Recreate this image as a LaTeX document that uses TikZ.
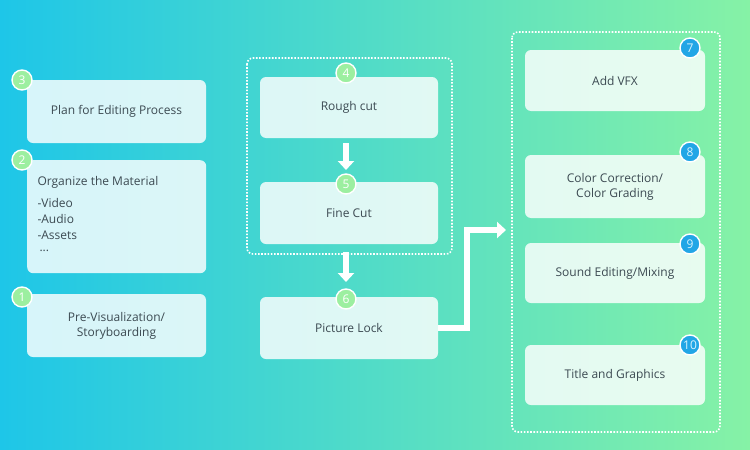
\documentclass[tikz,border=0pt]{standalone}
\usepackage{fontspec}
\setmainfont{Open Sans}
\usetikzlibrary{arrows.meta,shadings}
\definecolor{bgl}{HTML}{1EC6E8}
\definecolor{bgr}{HTML}{86F2A6}
\definecolor{txt}{HTML}{3C4A52}
\definecolor{gbad}{HTML}{9CEFA0}
\definecolor{bbad}{HTML}{22A6E6}
\begin{document}
\begin{tikzpicture}[x=1pt,y=-1pt,
  box/.style={draw=none,fill=white,fill opacity=0.82,text opacity=1,rounded corners=6pt,text=txt,font=\fontsize{12}{15}\selectfont,align=center},
  gb/.style={circle,draw=white,line width=1.4pt,fill=gbad,text=white,inner sep=0pt,minimum size=20pt,font=\fontsize{12}{12}\selectfont},
  bb/.style={circle,draw=white,line width=1.4pt,fill=bbad,text=white!85!cyan,inner sep=0pt,minimum size=20pt,font=\fontsize{12}{12}\selectfont},
  grp/.style={draw=white,line width=1.6pt,dash pattern=on 1.6pt off 1.6pt,rounded corners=6pt},
  arr/.style={draw=white,line width=6pt,-{Triangle[length=9pt,width=16pt]}}]
\shade[left color=bgl,right color=bgr] (0,0) rectangle (750,450);
\useasboundingbox (0,0) rectangle (750,450);
% left column
\node[box,minimum width=179pt,minimum height=63pt] (plan) at (116.5,111.5) {Plan for Editing Process};
\node[box,minimum width=179pt,minimum height=113pt,anchor=north west] (org) at (27,160) {};
\node[anchor=north west,text=txt,font=\fontsize{12}{16}\selectfont,align=left] (orgt) at (34,173) {Organize the Material\\[6pt]-Video\\-Audio\\-Assets\\[-4pt]\,...};
\node[box,minimum width=179pt,minimum height=63pt] (pre) at (116.5,325.5) {Pre-Visualization/\\Storyboarding};
\node[gb] (b3) at (22,80) {3};
\node[gb] (b2) at (22,160) {2};
\node[gb] (b1) at (22,297) {1};
% middle
\draw[grp] (247,58) rectangle (452,254);
\node[box,minimum width=178pt,minimum height=61pt] (rough) at (349,107.5) {Rough cut};
\node[box,minimum width=178pt,minimum height=62pt] (fine) at (349,213) {Fine Cut};
\node[box,minimum width=178pt,minimum height=62pt] (lock) at (349,328) {Picture Lock};
\coordinate (a1) at (346,143);
\coordinate (a2) at (346,170);
\coordinate (a3) at (346,252);
\coordinate (a4) at (346,282);
\draw[arr] (a1) -- (a2);
\draw[arr] (a3) -- (a4);
\node[gb] (b4) at (346,73) {4};
\node[gb] (b5) at (346,184) {5};
\node[gb] (b6) at (346,299) {6};
% right
\draw[grp] (512,32) rectangle (720,432);
\node[box,minimum width=180pt,minimum height=61pt] (vfx) at (615,80.5) {Add VFX};
\node[box,minimum width=180pt,minimum height=63pt] (cc) at (615,186.5) {Color Correction/\\Color Grading};
\node[box,minimum width=180pt,minimum height=60pt] (snd) at (615,273) {Sound Editing/Mixing};
\node[box,minimum width=180pt,minimum height=60pt] (ttl) at (615,375) {Title and Graphics};
\node[bb] (b7) at (690,48) {7};
\node[bb] (b8) at (690,152) {8};
\node[bb] (b9) at (690,244) {9};
\node[bb] (b10) at (690,345) {10};
\coordinate (c1) at (467,328);
\coordinate (c2) at (506,230);
\draw[arr] (lock.east) -- (c1) |- (c2);
\end{tikzpicture}
\end{document}
